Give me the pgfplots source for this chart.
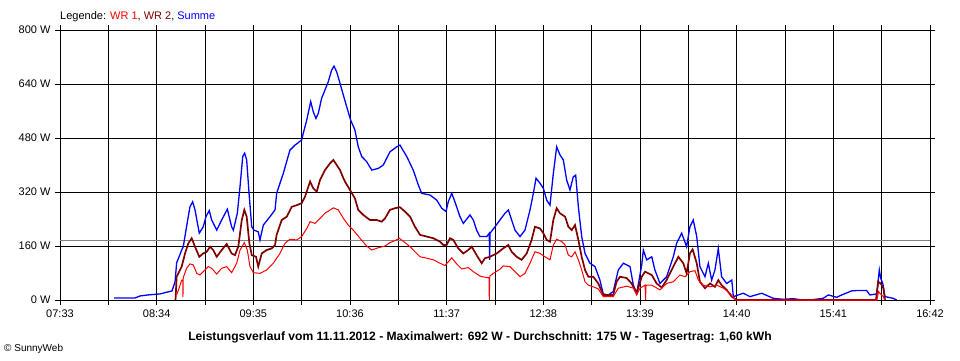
\documentclass[border=0pt]{standalone}
\usepackage{fontspec}
\setmainfont{Liberation Sans}
\usepackage{pgfplots}
\pgfplotsset{compat=1.18}
\definecolor{wrone}{RGB}{255,0,0}
\definecolor{wrtwo}{RGB}{128,0,0}
\definecolor{summe}{RGB}{0,0,255}
\definecolor{avg}{RGB}{128,128,128}
\begin{document}
\begin{tikzpicture}[x=1pt,y=1pt]
\path[use as bounding box] (0,0) rectangle (960,360);
\coordinate (AX) at (60,60);
\begin{axis}[
  at={(AX)}, anchor=south west,
  width=870pt, height=270pt, scale only axis,
  xmin=0, xmax=549, ymin=0, ymax=800,
  /pgf/number format/assume math mode=true,
  xtick={0,61,122,183,244,305,366,427,488,549},
  xticklabels={07:33,08:34,09:35,10:36,11:37,12:38,13:39,14:40,15:41,16:42},
  minor xtick={30.5,91.5,152.5,213.5,274.5,335.5,396.5,457.5,518.5},
  ytick={0,160,320,480,640,800},
  yticklabels={0 W,160 W,320 W,480 W,640 W,800 W},
  tick align=outside,
  major tick length=5pt, minor tick length=5pt,
  tick style={black, line width=1pt},
  grid=both,
  major grid style={black, line width=1pt},
  minor grid style={black, line width=1pt},
  axis line style={black, line width=1pt},
  ticklabel style={font=\fontsize{11}{13}\selectfont},
  yticklabel style={anchor=east, xshift=-1pt},
  xticklabel style={anchor=north, yshift=-1pt},
  clip=true,
]
\addplot[avg, line width=1pt] coordinates {(0,175) (549,175)};
\addplot[summe, line width=1.3pt] coordinates {
(34.1,6) (47.3,6) (50.5,12) (55.5,15) (63.1,18) (70.7,27) (72.6,54) (73.6,110) (76.8,148) (77.8,158)
(79.5,207) (82.0,276) (83.7,291) (85.2,267) (87.9,198) (90.4,217) (92.1,247) (94.2,265) (95.7,237) (98.9,207)
(102.0,237) (105.6,269) (108.3,217) (109.4,207) (111.9,257) (113.6,336) (115.3,425) (116.5,435) (117.8,415) (119.3,316)
(121.0,217) (122.4,207) (125.1,202) (126.2,178) (128.3,222) (132.5,247) (135.7,267) (136.7,316) (140.9,375) (145.1,444)
(148.3,459) (152.5,474) (153.5,494) (155.7,533) (158.2,588) (159.8,558) (161.5,538) (163.0,553) (165.1,598) (167.2,622)
(169.3,647) (171.4,681) (172.9,693) (174.6,676) (176.7,642) (178.8,607) (180.9,573) (183.4,533) (186.1,504) (188.2,454)
(190.4,425) (193.5,410) (196.7,385) (200.9,390) (204.0,400) (208.2,439) (212.5,454) (214.5,459) (218.8,425) (222.9,385)
(226.1,341) (228.2,316) (233.5,311) (237.7,296) (240.9,272) (243.6,262) (245.0,291) (247.2,316) (249.2,291) (252.4,247)
(254.5,227) (258.7,252) (260.8,237) (262.9,207) (265.0,188) (269.3,188) (270.9,198) (271.1,119) (271.4,198) (274.5,217)
(277.6,237) (280.8,257) (282.9,267) (285.0,237) (287.1,207) (290.3,188) (293.4,207) (296.6,267) (298.7,316) (300.4,361)
(302.9,346) (305.0,331) (307.1,296) (309.2,281) (311.3,375) (313.4,454) (315.5,430) (317.6,415) (319.7,356) (321.8,326)
(323.9,365) (325.4,370) (327.1,276) (329.2,188) (331.3,138) (334.4,109) (337.6,99) (340.7,59) (342.8,18) (346.0,15)
(349.1,25) (352.3,89) (355.5,109) (359.7,99) (361.8,44) (363.9,20) (367.1,104) (368.1,148) (370.2,119) (373.4,128)
(375.4,89) (378.6,49) (382.8,69) (387.0,128) (389.1,168) (392.3,198) (395.4,158) (397.5,217) (399.6,237) (401.8,188)
(403.8,99) (407.0,69) (409.1,109) (411.2,59) (413.3,89) (415.4,153) (417.5,69) (420.7,49) (423.9,59) (424.9,10)
(431.2,20) (435.4,10) (442.8,20) (450.1,5) (456.4,2) (462.7,4) (466.9,1) (473.3,0) (481.6,5) (484.8,15)
(490.1,8) (493.3,15) (499.6,27) (502.7,28) (509.0,28) (511.1,15) (515.4,18) (517.0,89) (517.9,64) (519.2,49)
(520.6,10) (525.8,5) (528.0,0)
};
\addplot[wrtwo, line width=1.7pt] coordinates {
(72.9,0) (73.6,69) (76.8,99) (78.9,138) (81.0,168) (83.1,183) (85.2,158) (87.9,128) (90.4,138) (92.6,143)
(94.7,158) (96.7,148) (98.9,128) (102.0,148) (105.2,166) (108.3,138) (110.4,133) (112.5,158) (114.7,237) (116.3,267)
(117.8,247) (119.5,168) (121.0,133) (123.7,128) (125.1,99) (127.3,138) (130.4,148) (133.6,153) (135.7,163) (136.7,193)
(139.9,237) (143.1,247) (146.2,276) (149.4,281) (152.5,287) (154.6,306) (157.8,351) (159.8,331) (162.0,321) (164.1,356)
(167.2,385) (170.4,405) (172.5,415) (174.6,400) (176.7,385) (178.8,361) (179.8,351) (183.0,326) (186.1,301) (188.2,267)
(191.4,252) (195.6,237) (199.8,237) (203.0,232) (205.1,242) (208.2,267) (211.4,272) (214.5,275) (217.7,262) (220.9,247)
(224.0,217) (227.2,193) (231.4,188) (235.6,183) (239.8,173) (241.9,163) (244.0,163) (246.1,183) (248.2,178) (251.3,153)
(254.5,138) (257.6,148) (259.8,158) (262.9,133) (266.1,109) (268.2,124) (271.3,128) (275.6,138) (279.7,153) (282.9,163)
(285.0,143) (288.2,128) (291.3,119) (294.5,138) (297.6,178) (299.7,217) (302.9,212) (305.0,198) (307.1,178) (309.2,173)
(311.3,237) (313.4,272) (315.5,257) (318.7,247) (320.8,217) (322.9,207) (325.0,222) (327.1,178) (329.2,128) (331.3,89)
(333.4,69) (336.5,69) (339.7,49) (342.8,15) (349.1,15) (351.2,54) (353.4,69) (357.6,65) (360.7,49) (363.9,20)
(367.1,69) (369.2,84) (373.4,74) (376.5,49) (379.7,37) (382.8,59) (387.0,99) (390.2,128) (393.3,109) (395.4,79)
(397.5,138) (399.2,150) (401.8,109) (403.8,54) (407.0,35) (410.2,49) (413.3,39) (415.4,59) (417.5,44) (420.7,30)
(423.9,10) (427.0,0) (514.9,0) (516.3,54) (517.9,49) (519.6,35) (520.6,0)
};
\addplot[wrone, line width=1pt] coordinates {
(73.6,15) (74.8,30) (76.8,59) (77.5,59) (77.6,9) (77.7,62) (77.9,68) (79.9,94) (82.0,107) (84.1,104) (86.3,79)
(88.3,74) (90.4,84) (93.6,99) (95.7,94) (98.9,77) (102.0,94) (105.2,99) (108.3,81) (111.5,109) (113.6,148)
(116.3,170) (118.2,148) (119.9,99) (122.0,81) (126.2,79) (130.4,89) (134.6,109) (138.8,138) (142.0,168) (145.1,180)
(149.4,178) (152.5,188) (155.7,212) (157.8,232) (160.9,227) (164.1,242) (167.2,257) (172.5,273) (175.6,267) (178.8,242)
(181.9,222) (185.1,207) (189.3,183) (193.5,160) (196.7,148) (200.9,155) (205.1,160) (208.2,170) (211.4,176) (214.1,183)
(217.7,170) (220.9,158) (224.0,143) (227.2,128) (231.4,124) (235.6,119) (239.8,109) (242.9,102) (245.0,113) (247.2,125)
(250.3,107) (253.5,92) (257.6,96) (260.8,84) (265.0,71) (269.3,66) (270.7,66) (270.9,0) (271.2,71) (273.4,79)
(277.6,91) (279.7,101) (284.0,99) (287.1,84) (290.3,69) (293.4,79) (296.6,109) (299.7,143) (302.9,138) (306.0,128)
(309.2,119) (311.3,163) (313.4,180) (316.6,173) (318.7,163) (320.8,133) (322.9,128) (325.0,143) (327.1,119) (329.2,89)
(331.3,54) (333.4,44) (336.5,39) (339.7,33) (342.8,10) (349.1,10) (352.3,35) (357.6,41) (361.8,35) (363.9,15)
(366.0,35) (369.2,44) (369.5,0) (369.8,44) (373.4,44) (378.6,30) (382.8,49) (387.0,54) (391.2,74) (394.4,69)
(397.5,84) (400.7,87) (402.8,59) (405.9,44) (410.2,39) (414.4,44) (418.6,35) (422.8,20) (425.3,5) (426.6,0)
(515.5,0) (516.5,25) (517.7,18) (519.6,10) (520.3,0)
};
\end{axis}
\node[anchor=west, inner sep=0pt, font=\fontsize{11}{13}\selectfont] at (60,343.5)
  {Legende: \textcolor{wrone}{WR 1}, \textcolor{wrtwo}{WR 2}, \textcolor{summe}{Summe}};
\node[anchor=center, inner sep=0pt, font=\fontsize{12.1}{14}\selectfont\bfseries] at (480,23)
  {Leistungsverlauf vom 11.11.2012 - Maximalwert: 692 W - Durchschnitt: 175 W - Tagesertrag: 1,60 kWh};
\node[anchor=west, inner sep=0pt, font=\fontsize{10}{12}\selectfont] at (4,11.5)
  {\textcopyright{} SunnyWeb};
\end{tikzpicture}
\end{document}
